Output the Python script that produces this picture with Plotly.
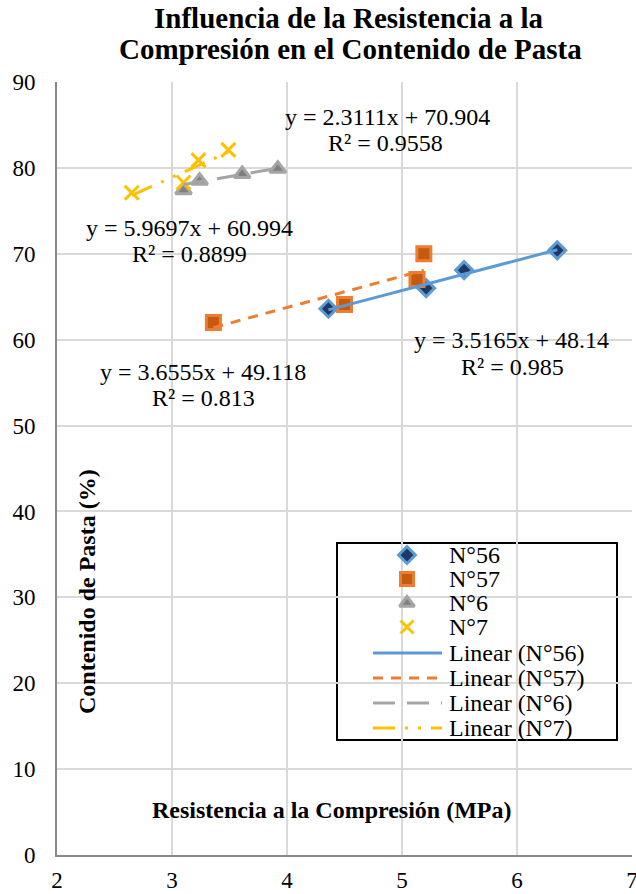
import plotly.graph_objects as go

# Data
x56 = [4.36, 5.21, 5.54, 6.35]
y56 = [63.6, 66.0, 68.1, 70.4]
x57 = [3.36, 4.50, 5.13, 5.19]
y57 = [62.0, 64.1, 67.0, 70.0]
x6 = [3.10, 3.24, 3.61, 3.92]
y6 = [77.4, 78.5, 79.3, 79.9]
x7 = [2.65, 3.10, 3.23, 3.49]
y7 = [77.1, 78.3, 80.9, 82.1]

series_names = ["N°56", "N°57", "N°6", "N°7"]
slopes = [3.5165, 3.6555, 2.3111, 5.9697]
intercepts = [48.14, 49.118, 70.904, 60.994]
intercept_labels = ["48.14", "49.118", "70.904", "60.994"]
r2 = ["0.985", "0.813", "0.9558", "0.8899"]

title_lines = ["Influencia de la Resistencia a la", "Compresión en el Contenido de Pasta"]
x_title = "Resistencia a la Compresión (MPa)"
y_title = "Contenido de Pasta (%)"

FONT = "Liberation Serif"

# plot area in pixels
L, R, T, B = 57, 632, 82, 855
W, H = R - L, B - T


def px(xp):
    return (xp - L) / W


def py(yp):
    return (B - yp) / H


def text(xp, yp, s, size, bold=False, angle=0, xanchor="center"):
    fig.add_annotation(x=px(xp), y=py(yp), xref="paper", yref="paper", showarrow=False,
                       xanchor=xanchor, yanchor="middle", textangle=angle,
                       text=("<b>" + s + "</b>") if bold else s,
                       font=dict(family=FONT, size=size, color="black"))


fig = go.Figure()

markers = [
    dict(symbol="diamond", size=13, color="#1f3864", line=dict(color="#5b9bd5", width=3)),
    dict(symbol="square", size=14, color="#c55a11", line=dict(color="#ed7d31", width=3)),
    dict(symbol="triangle-up", size=14, color="#7f7f7f", line=dict(color="#a5a5a5", width=3)),
    dict(symbol="x-thin", size=14, color="#ffc000", line=dict(color="#ffc000", width=3)),
]
xs = [x56, x57, x6, x7]
ys = [y56, y57, y6, y7]

line_styles = [
    dict(color="#5b9bd5", width=3, dash="solid"),
    dict(color="#ed7d31", width=3, dash="10px,8px"),
    dict(color="#a5a5a5", width=3, dash="22px,12px"),
    dict(color="#ffc000", width=3, dash="22px,10px,3px,10px,3px,10px"),
]

for name, xx, yy, mk in zip(series_names, xs, ys, markers):
    fig.add_trace(go.Scatter(x=xx, y=yy, mode="markers", name=name, marker=mk, showlegend=False))

for name, xx, m, b, ls in zip(series_names, xs, slopes, intercepts, line_styles):
    x0, x1 = min(xx), max(xx)
    fig.add_trace(go.Scatter(x=[x0, x1], y=[m * x0 + b, m * x1 + b], mode="lines",
                             name=f"Linear ({name})", line=ls, showlegend=False))

# equation labels: (eq line center, R² line center) in reference pixels
eq_pos = [((511, 340), (512, 367)), ((203, 372), (203, 398)),
          ((387, 117), (385, 143)), ((189, 228), (189, 254))]
for ((ex, ey), (rx, ry)), m, bl, r in zip(eq_pos, slopes, intercept_labels, r2):
    text(ex, ey, f"y = {m:g}x + {bl}", 24)
    text(rx, ry, f"R² = {r}", 24)

text(349, 18, title_lines[0], 29, bold=True)
text(350, 49, title_lines[1], 29, bold=True)
text(332, 810, x_title, 24, bold=True)
text(87, 592, y_title, 24, bold=True, angle=-90)

# custom legend
fig.add_shape(type="rect", xref="paper", yref="paper", x0=px(337), x1=px(617), y0=py(740), y1=py(543),
              line=dict(color="black", width=2), fillcolor="white", layer="between")
leg_rows = [555, 579, 603, 627, 653, 678, 703, 728]
leg_labels = series_names + [f"Linear ({n})" for n in series_names]
fig.add_trace(go.Scatter(
    x=[px(407)] * 4, y=[py(v) for v in leg_rows[:4]], xaxis="x2", yaxis="y2",
    mode="markers", showlegend=False, hoverinfo="skip",
    marker=dict(symbol=[mk["symbol"] for mk in markers], size=13,
                color=[mk["color"] for mk in markers],
                line=dict(color=[mk["line"]["color"] for mk in markers], width=3))))
for yy, ls in zip(leg_rows[4:], line_styles):
    fig.add_shape(type="line", xref="paper", yref="paper", x0=px(373), x1=px(442),
                  y0=py(yy), y1=py(yy), line=ls, layer="above")
for yy, lab in zip(leg_rows, leg_labels):
    text(447, yy, lab, 24, xanchor="left")

fig.update_layout(
    width=636, height=894,
    margin=dict(l=L, r=636 - R, t=T, b=894 - B, autoexpand=False),
    paper_bgcolor="white", plot_bgcolor="white",
    font=dict(family=FONT, size=24, color="black"),
    showlegend=False,
    xaxis=dict(range=[2, 7], dtick=1, showgrid=True, gridcolor="#d9d9d9", gridwidth=2,
               showline=True, linecolor="#898989", linewidth=2, zeroline=False,
               ticks="", tickfont=dict(family=FONT, size=23), ticklabelstandoff=3,
               ticklabeloverflow="allow", automargin=False),
    yaxis=dict(range=[0, 90], dtick=10, showgrid=True, gridcolor="#d9d9d9", gridwidth=2,
               showline=True, linecolor="#898989", linewidth=2, zeroline=False,
               ticks="", tickfont=dict(family=FONT, size=23), ticklabelstandoff=15,
               automargin=False),
    xaxis2=dict(range=[0, 1], overlaying="x", visible=False, fixedrange=True),
    yaxis2=dict(range=[0, 1], overlaying="y", visible=False, fixedrange=True),
)

fig.write_html("out.html")
